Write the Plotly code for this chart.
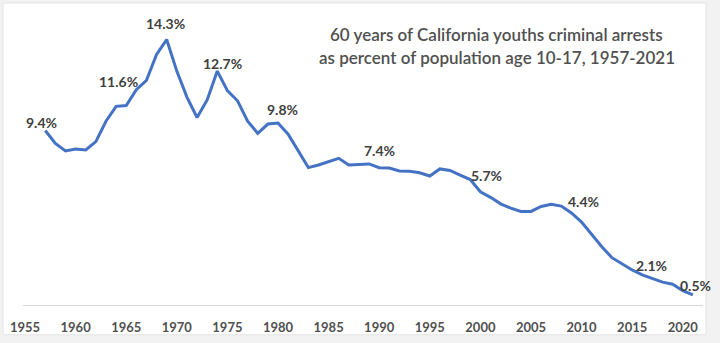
import plotly.graph_objects as go

years = list(range(1957, 2022))
rate = [9.4, 8.7, 8.3, 8.4, 8.35, 8.8, 9.9, 10.7, 10.75, 11.6,
        12.1, 13.5, 14.3, 12.6, 11.2, 10.1, 11.05, 12.6, 11.55, 11.0,
        9.9, 9.25, 9.75, 9.8, 9.2, 8.3, 7.4, 7.54, 7.74, 7.9,
        7.54, 7.58, 7.6, 7.4, 7.38, 7.22, 7.2, 7.12, 6.95, 7.33,
        7.25, 7.0, 6.76, 6.1, 5.8, 5.45, 5.22, 5.04, 5.04, 5.31,
        5.42, 5.33, 4.96, 4.47, 3.8, 3.14, 2.55, 2.21, 1.89, 1.62,
        1.44, 1.23, 1.12, 0.77, 0.55]

label_years = [1957, 1966, 1969, 1974, 1980, 1989, 2000, 2009, 2016, 2021]
label_texts = ["9.4%", "11.6%", "14.3%", "12.7%", "9.8%", "7.4%", "5.7%", "4.4%", "2.1%", "0.5%"]

tick_years = list(range(1955, 2021, 5))

title_lines = ["60 years of California youths criminal arrests",
               "as percent of population age 10-17, 1957-2021"]

# label pixel offsets (style only)
label_shifts = [(-4, 8), (-18, 8), (-1, 16), (5, 8), (4, 14), (10, 13), (6, 16), (12, 11), (9, 9), (3, 9)]

fig = go.Figure()
fig.add_trace(go.Scatter(x=years, y=rate, mode="lines",
                         line=dict(color="#4472C4", width=3),
                         hoverinfo="skip", showlegend=False))

for yr, txt, (dx, dy) in zip(label_years, label_texts, label_shifts):
    fig.add_annotation(x=yr, y=rate[years.index(yr)], text=txt, showarrow=False,
                       xshift=dx, yshift=dy, yanchor="middle", xanchor="center",
                       font=dict(family="Lato", size=14, color="#404040", weight="bold"))

for i, line in enumerate(title_lines):
    fig.add_annotation(xref="paper", yref="paper", x=0.697, y=[0.9097, 0.8328][i],
                       text=line, showarrow=False, xanchor="center", yanchor="middle",
                       font=dict(family="Lato", size=17, color="#505050", weight=600))

fig.add_shape(type="rect", xref="paper", yref="paper",
              x0=-0.0294, x1=1.0044, y0=-0.1003, y1=1.0167,
              fillcolor="white", line=dict(color="#e4e4e4", width=1), layer="below")

fig.update_layout(
    width=720, height=343,
    margin=dict(l=23, r=17, t=8, b=36),
    paper_bgcolor="#f2f2f2", plot_bgcolor="white",
    xaxis=dict(range=[1954.8, 2022.0], tickvals=tick_years, showgrid=False, zeroline=False,
               showline=True, linecolor="#d9d9d9", linewidth=1, ticks="",
               ticklabelstandoff=10,
               tickfont=dict(family="Lato", size=13, color="#505050", weight="bold")),
    yaxis=dict(range=[0, 16], visible=False, showgrid=False, zeroline=False),
)

fig.write_html("out.html")
